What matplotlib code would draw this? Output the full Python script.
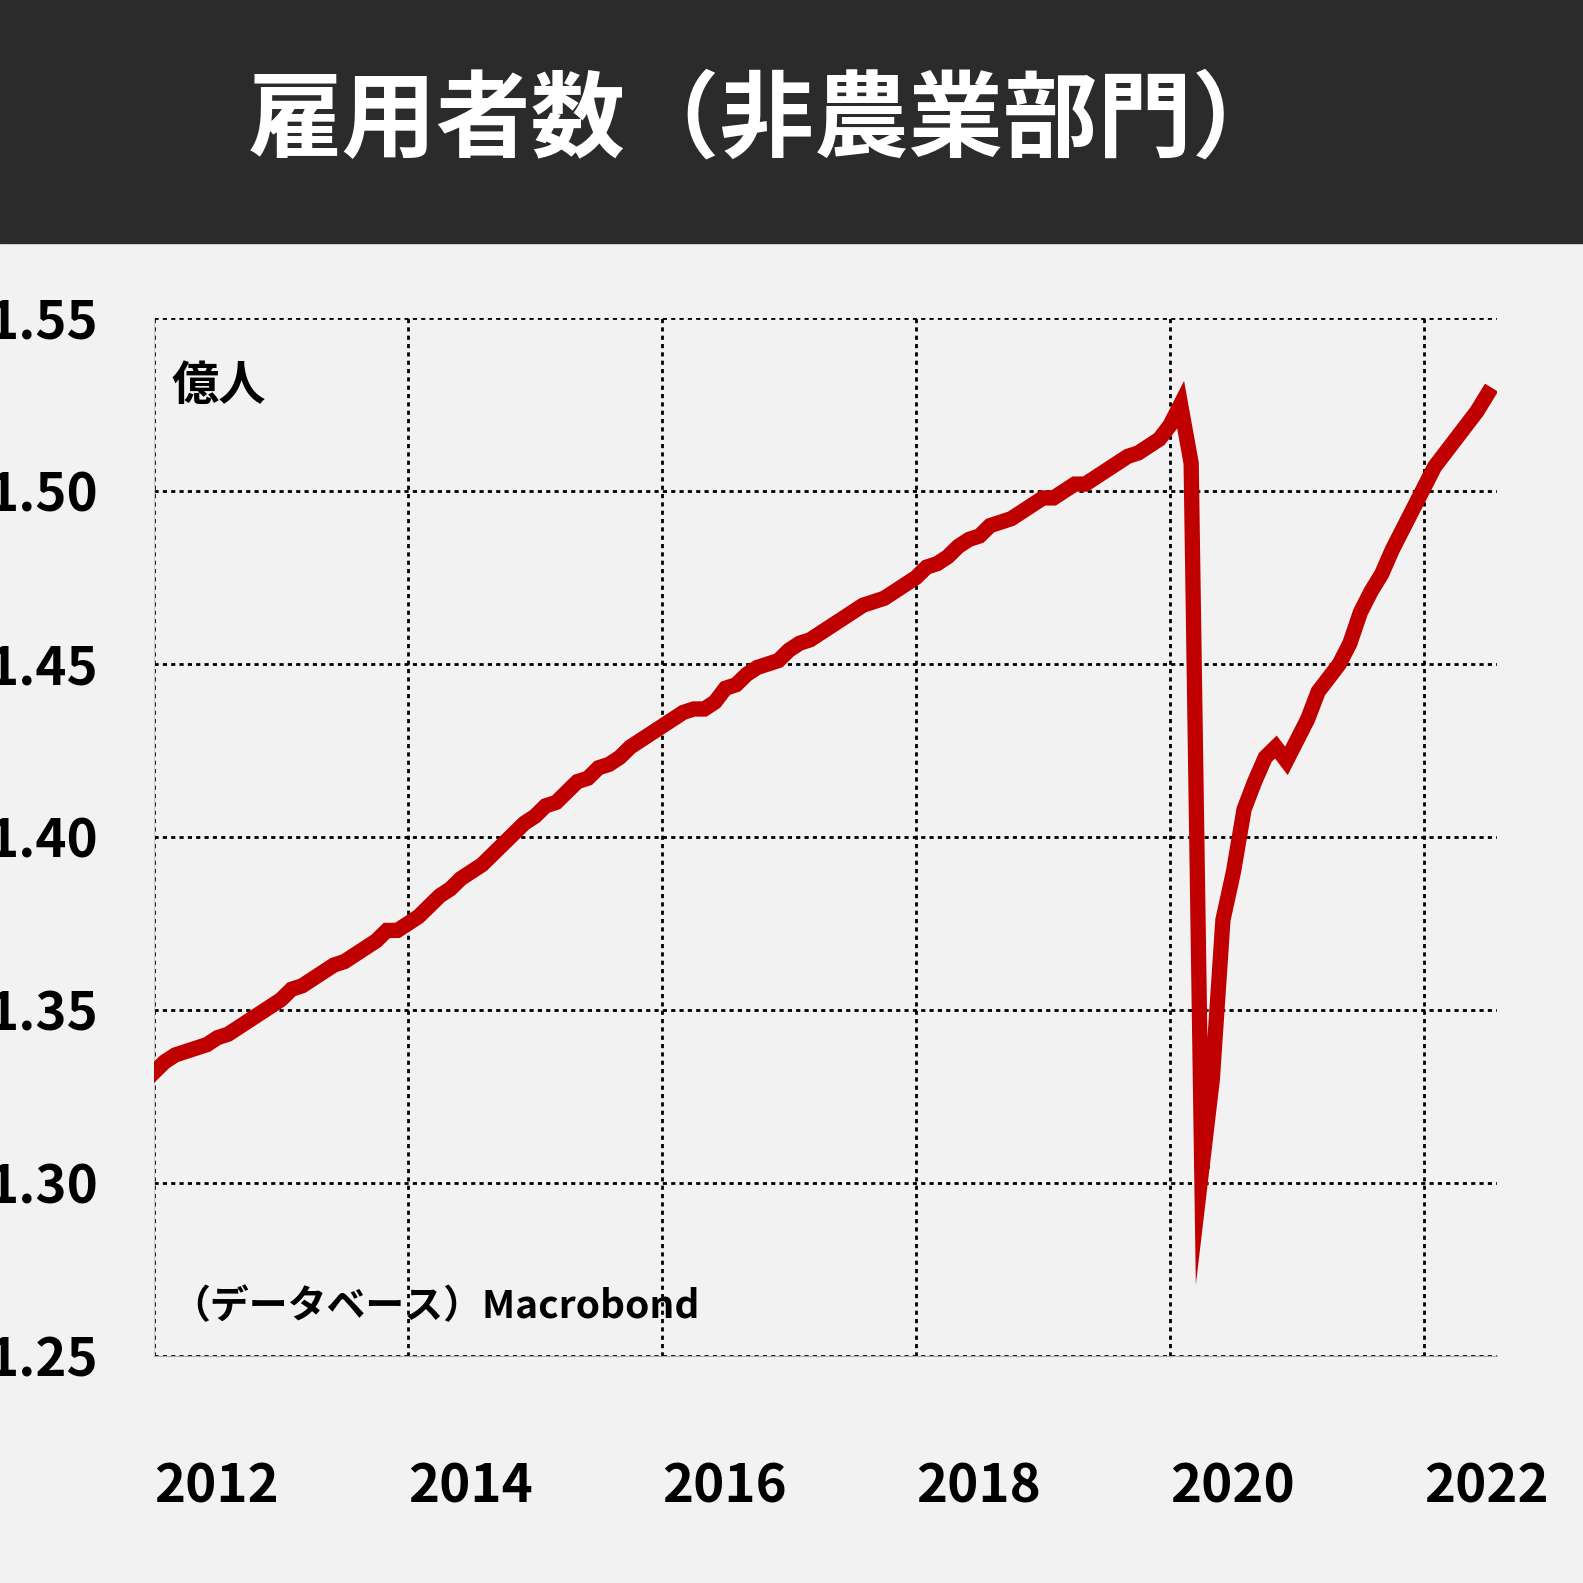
import numpy as np
import matplotlib.pyplot as plt

plt.rcParams['font.family'] = ['Noto Sans CJK JP', 'DejaVu Sans']

# 非農業部門雇用者数（百万人、月次、2012年1月〜2022年7月）
y2012 = [133.2, 133.5, 133.7, 133.8, 133.9, 134.0, 134.2, 134.3, 134.5, 134.7, 134.9, 135.1]
y2013 = [135.3, 135.6, 135.7, 135.9, 136.1, 136.3, 136.4, 136.6, 136.8, 137.0, 137.3, 137.3]
y2014 = [137.5, 137.7, 138.0, 138.3, 138.5, 138.8, 139.0, 139.2, 139.5, 139.8, 140.1, 140.4]
y2015 = [140.6, 140.9, 141.0, 141.3, 141.6, 141.7, 142.0, 142.1, 142.3, 142.6, 142.8, 143.0]
y2016 = [143.2, 143.4, 143.6, 143.7, 143.7, 143.9, 144.3, 144.4, 144.7, 144.9, 145.0, 145.1]
y2017 = [145.4, 145.6, 145.7, 145.9, 146.1, 146.3, 146.5, 146.7, 146.8, 146.9, 147.1, 147.3]
y2018 = [147.5, 147.8, 147.9, 148.1, 148.4, 148.6, 148.7, 149.0, 149.1, 149.2, 149.4, 149.6]
y2019 = [149.8, 149.8, 150.0, 150.2, 150.2, 150.4, 150.6, 150.8, 151.0, 151.1, 151.3, 151.5]
y2020 = [151.9, 152.5, 150.8, 130.4, 133.0, 137.6, 139.0, 140.8, 141.6, 142.3, 142.6, 142.2]
y2021 = [142.8, 143.4, 144.2, 144.6, 145.0, 145.6, 146.5, 147.1, 147.6, 148.3, 148.9, 149.5]
y2022 = [150.1, 150.7, 151.1, 151.5, 151.9, 152.3, 152.8]

values = np.array(y2012 + y2013 + y2014 + y2015 + y2016 + y2017 + y2018 +
                  y2019 + y2020 + y2021 + y2022) / 100.0
dates = 2012 + np.arange(len(values)) / 12.0

yticks = [1.25, 1.30, 1.35, 1.40, 1.45, 1.50, 1.55]
xticks = [2012, 2014, 2016, 2018, 2020, 2022]

fig = plt.figure(figsize=(15.83, 15.83), dpi=100)
fig.patch.set_facecolor('#f2f2f2')

# タイトル帯
fig.patches.append(plt.Rectangle((0, 1 - 243 / 1583), 1, 243 / 1583,
                                 transform=fig.transFigure, color='#2b2b2b', zorder=0))
fig.text(0.485, 1 - 122 / 1583, '雇用者数（非農業部門）', color='white',
         fontsize=68, fontweight='bold', ha='center', va='center')

ax = fig.add_axes([154 / 1583, 1 - 1356 / 1583, 1343 / 1583, 1038 / 1583])
ax.set_facecolor('#f2f2f2')
ax.plot(dates, values, color='#c00000', lw=11, solid_joinstyle='miter', zorder=3)

ax.set_xlim(2012, 2012 + 1343 / 127)
ax.set_ylim(1.25, 1.55)
ax.set_yticks(yticks)
ax.set_yticklabels([f'{v:.2f}' for v in yticks])
ax.set_xticks(xticks)
ax.set_xticklabels([str(v) for v in xticks])
ax.grid(True, color='black', linestyle=(0, (1.5, 1.5)), lw=2)
ax.set_axisbelow(True)
for s in ['top', 'right']:
    ax.spines[s].set_visible(False)
ax.spines['left'].set_color('#cccccc')
ax.spines['bottom'].set_color('#aaaaaa')
ax.tick_params(length=0, labelsize=38)
for t in ax.get_yticklabels() + ax.get_xticklabels():
    t.set_fontweight('bold')
ax.tick_params(axis='x', pad=75)
ax.tick_params(axis='y', pad=40)
for t in ax.get_xticklabels():
    t.set_ha('left')
    t.set_x(t.get_position()[0])

ax.text(0.013, 0.935, '億人', transform=ax.transAxes, fontsize=34,
        fontweight='bold', va='center', ha='left')
ax.text(0.013, 0.048, '（データベース）Macrobond', transform=ax.transAxes,
        fontsize=28, fontweight='bold', va='center', ha='left')

fig.savefig('out.png', dpi=100, facecolor=fig.get_facecolor())
